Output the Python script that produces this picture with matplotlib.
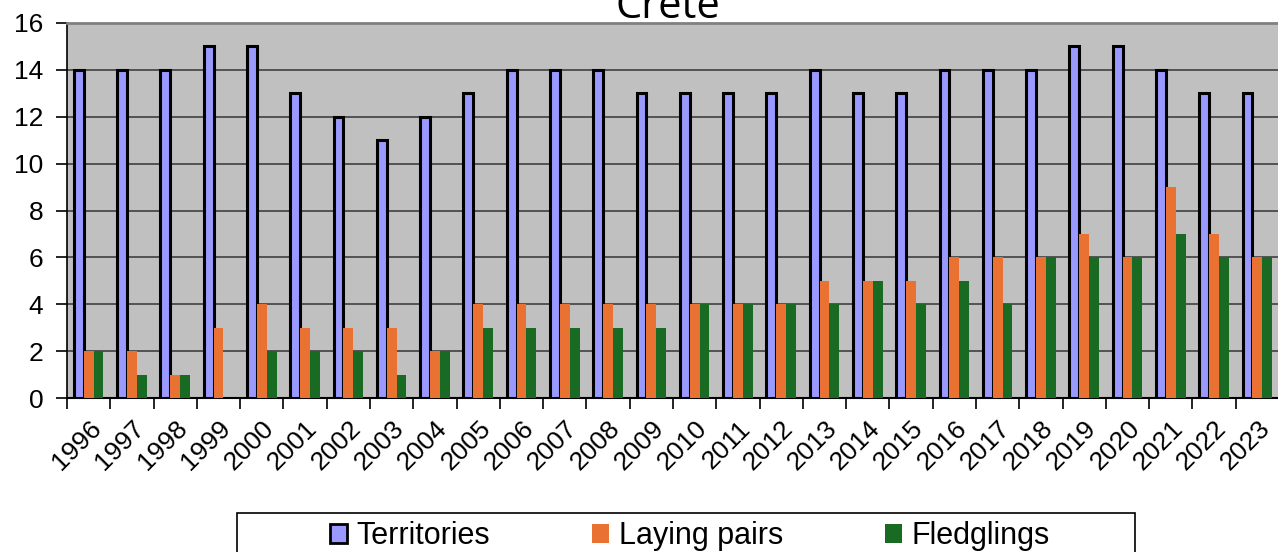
import numpy as np
import matplotlib.pyplot as plt
from matplotlib.patches import Patch, Rectangle

# data
years = [str(y) for y in range(1996, 2024)]
territories = [14, 14, 14, 15, 15, 13, 12, 11, 12, 13, 14, 14, 14, 13,
               13, 13, 13, 14, 13, 13, 14, 14, 14, 15, 15, 14, 13, 13]
laying_pairs = [2, 2, 1, 3, 4, 3, 3, 3, 2, 4, 4, 4, 4, 4,
                4, 4, 4, 5, 5, 5, 6, 6, 6, 7, 6, 9, 7, 6]
fledglings = [2, 1, 1, 0, 2, 2, 2, 1, 2, 3, 3, 3, 3, 3,
              4, 4, 4, 4, 5, 4, 5, 4, 6, 6, 6, 7, 6, 6]

c_terr = '#9999FF'
c_lay = '#E97132'
c_fled = '#196B24'

W, H = 1278, 552
fig = plt.figure(figsize=(W/100, H/100), dpi=100)
ax = fig.add_axes([67/W, 1 - 398/H, 1212/W, 375/H])
ax.set_facecolor('#C0C0C0')

x = np.arange(len(years))
w = 0.227
ax.bar(x - w, territories, w, color=c_terr, edgecolor='black', linewidth=2.2, zorder=3)
ax.bar(x, laying_pairs, w, color=c_lay, linewidth=0, zorder=3)
ax.bar(x + w, fledglings, w, color=c_fled, linewidth=0, zorder=3)

ax.set_xlim(-0.5, len(years) - 0.5)
ax.set_ylim(0, 16)
ax.set_yticks(range(0, 17, 2))
ax.yaxis.grid(True, color='#404040', linewidth=1.2, zorder=1)
ax.set_axisbelow(True)

# tick marks between categories, labels at centres
ax.set_xticks(np.arange(-0.5, len(years), 1.0))
ax.set_xticklabels([])
ax.set_xticks(x, minor=True)
ax.set_xticklabels(years, minor=True, rotation=45, ha='right',
                   rotation_mode='anchor', fontsize=19, family='Liberation Sans')
ax.tick_params(axis='x', which='major', length=8, width=1.2, color='black')
ax.tick_params(axis='x', which='minor', length=0, pad=13)
ax.tick_params(axis='y', length=8, width=1.2, color='black', labelsize=19, pad=9)
for lab in ax.get_yticklabels():
    lab.set_family('Liberation Sans')

ax.spines['left'].set_color('black')
ax.spines['left'].set_linewidth(1.2)
ax.spines['bottom'].set_color('black')
ax.spines['bottom'].set_linewidth(1.5)
ax.spines['top'].set_color('#808080')
ax.spines['top'].set_linewidth(2)
ax.spines['right'].set_visible(False)

fig.text(668/W, 1 - 18/H, 'Crete', ha='center', va='baseline',
         fontsize=30, family='Open Sans')

# legend box (runs off the bottom edge, as in the original)
fig.patches.append(Rectangle((237/W, -0.1), (1135 - 237)/W, (H - 512.5)/H + 0.1,
                             transform=fig.transFigure, fill=False,
                             edgecolor='black', linewidth=1.2))

handles = [Patch(facecolor=c_terr, edgecolor='black', linewidth=2),
           Patch(facecolor=c_lay, linewidth=0),
           Patch(facecolor=c_fled, linewidth=0)]
leg = fig.legend(handles, ['Territories', 'Laying pairs', 'Fledglings'],
                 loc='upper left', bbox_to_anchor=(330/W, 1 - 521/H),
                 ncol=3, frameon=False, handlelength=0.56, handleheight=0.56,
                 handletextpad=0.3, columnspacing=3.35, borderpad=0, borderaxespad=0,
                 prop={'family': 'Liberation Sans', 'size': 22})

fig.savefig('out.png', dpi=100)
